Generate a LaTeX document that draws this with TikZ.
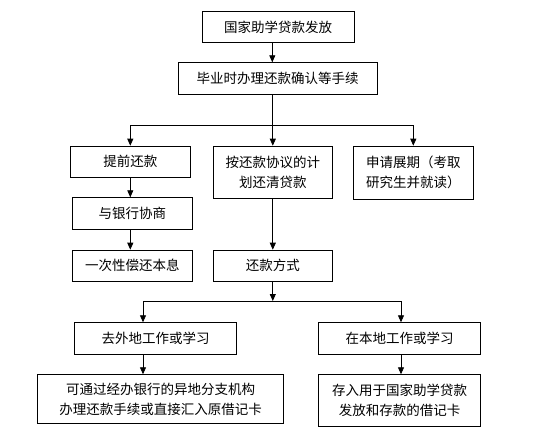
\documentclass[tikz,border=0pt]{standalone}
\usepackage{fontspec}
\newfontfamily\cjk{Noto Sans CJK SC}
\usepackage{tikz}
\usetikzlibrary{arrows.meta}

\begin{document}
\begin{tikzpicture}[
    x = 1pt, y = -1pt,
    every node/.style = {
        draw, rectangle, line width=0.9pt, anchor=north, inner sep=0pt,
        align=center, font=\cjk\fontsize{13.5}{20}\selectfont
    },
    arr/.style = {-{Triangle[length=7pt, width=6pt]}, line width=0.8pt}
  ]
    \useasboundingbox (0,0) rectangle (535,432);
    \node[minimum width=152pt, minimum height=31.6pt] (fafang) at (278,10.7) {国家助学贷款发放};  % 发放
    \node[minimum width=199pt, minimum height=31.7pt] (shouxu) at (277.5,62.3) {毕业时办理还款确认等手续};
    \node[minimum width=119.3pt, minimum height=31.3pt] (tiqian) at (130.3,145.7) {提前还款};
    \node[minimum width=119pt, minimum height=52.3pt] (jihua) at (272.8,145.7) {按还款协议的计\\划还清贷款};
    \node[minimum width=119.3pt, minimum height=53.3pt] (zhanqi) at (413.3,145.7) {申请展期（考取\\研究生并就读）};
    \node[minimum width=119.3pt, minimum height=31.7pt] (xieshang) at (132.3,197.3) {与银行协商};
    \node[minimum width=119.3pt, minimum height=31.3pt] (changhuan) at (132.3,249.7) {一次性偿还本息};
    \node[minimum width=119pt, minimum height=31.3pt] (fangshi) at (272.8,249.7) {还款方式};  % 还款方式
    \node[minimum width=162pt, minimum height=31.4pt] (waidi) at (155.7,322.3) {去外地工作或学习};
    \node[minimum width=162pt, minimum height=31.4pt] (bendi) at (399.7,322.3) {在本地工作或学习};
    \node[minimum width=246.4pt, minimum height=48.7pt] (tongguo) at (160.5,374.3) {可通过经办银行的异地分支机构\\办理还款手续或直接汇入原借记卡};
    \node[minimum width=162pt, minimum height=51.7pt] (cunru) at (399.7,374.3) {存入用于国家助学贷款\\发放和存款的借记卡};

    % 连线
    \coordinate (fen1) at (272.3,125.3);
    \coordinate (zuo) at (143,301);
    \coordinate (you) at (401,301);
    \draw[arr] (fafang.south -| fen1) -- (shouxu.north -| fen1);
    \draw[line width=0.8pt] (shouxu.south -| fen1) -- (fen1);
    \draw[line width=0.8pt] (fen1 -| tiqian) -- (fen1 -| zhanqi);
    \foreach \n in {tiqian, jihua, zhanqi}
        \draw[arr] (fen1 -| \n) -- (\n.north);
    \draw[arr] (tiqian.south) -- (tiqian.south |- xieshang.north);
    \draw[arr] (tiqian.south |- xieshang.south) -- (tiqian.south |- changhuan.north);
    \draw[arr] (jihua.south) -- (fangshi.north);
    \draw[arr] (fangshi.south) -- (fangshi.south |- zuo);
    \draw[line width=0.8pt] (zuo) -- (you);
    \draw[arr] (zuo) -- (zuo |- waidi.north);
    \draw[arr] (you) -- (you |- bendi.north);
    \draw[arr] (zuo |- waidi.south) -- (zuo |- tongguo.north);
    \draw[arr] (you |- bendi.south) -- (you |- cunru.north);
\end{tikzpicture}
\end{document}
